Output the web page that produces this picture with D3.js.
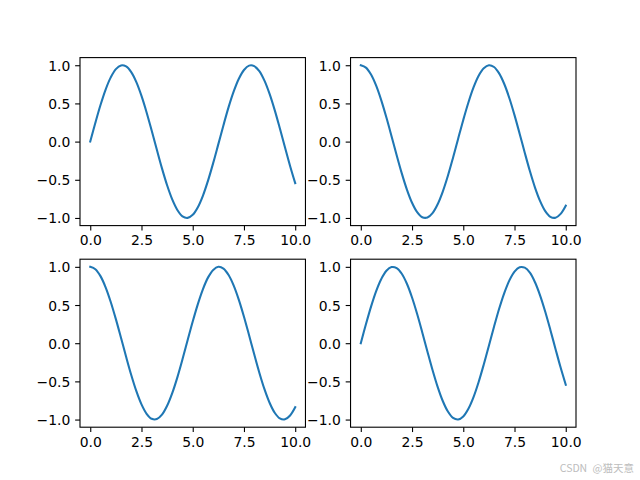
<!DOCTYPE html>
<html><head><meta charset="utf-8">
<script src="https://cdn.jsdelivr.net/npm/d3@7"></script>
<style>body{margin:0;background:#fff}svg{display:block}</style>
</head><body>
<svg id="c" width="640" height="480"></svg>
<script>
const xs = [0,0.25,0.5,0.75,1,1.25,1.5,1.75,2,2.25,2.5,2.75,3,3.25,3.5,3.75,4,4.25,4.5,4.75,5,5.25,5.5,5.75,6,6.25,6.5,6.75,7,7.25,7.5,7.75,8,8.25,8.5,8.75,9,9.25,9.5,9.75,10];
const sinVals = [0,0.247,0.479,0.682,0.841,0.949,0.997,0.984,0.909,0.778,0.598,0.382,0.141,-0.108,-0.351,-0.572,-0.757,-0.895,-0.978,-0.999,-0.959,-0.859,-0.706,-0.508,-0.279,-0.033,0.215,0.451,0.657,0.823,0.938,0.995,0.989,0.923,0.798,0.624,0.412,0.174,-0.075,-0.319,-0.544];
const cosVals = [1,0.969,0.878,0.732,0.540,0.315,0.071,-0.178,-0.416,-0.628,-0.801,-0.924,-0.990,-0.994,-0.936,-0.820,-0.654,-0.447,-0.211,0.038,0.284,0.512,0.709,0.862,0.960,1.000,0.977,0.893,0.754,0.568,0.347,0.104,-0.146,-0.386,-0.602,-0.780,-0.911,-0.985,-0.997,-0.946,-0.839];
const panels = [sinVals, cosVals, cosVals, sinVals];
const xTicks = [0, 2.5, 5, 7.5, 10];
const xTickLabels = ["0.0","2.5","5.0","7.5","10.0"];
const yTicks = [-1, -0.5, 0, 0.5, 1];
const yTickLabels = ["−1.0","−0.5","0.0","0.5","1.0"];
const watermark = "CSDN @猫天意";

const svg = d3.select("#c");
const L = 80, R = 576, T = 57.6, B = 427.2;
const w = (R - L) / 2.2, h = (B - T) / 2.2;
const font = "DejaVu Sans, sans-serif";

panels.forEach((vals, i) => {
  const col = i % 2, row = Math.floor(i / 2);
  const x0 = L + col * w * 1.2, y0 = T + row * h * 1.2;
  const x = d3.scaleLinear().domain([-0.5, 10.5]).range([x0, x0 + w]);
  const y = d3.scaleLinear().domain([-1.1, 1.1]).range([y0 + h, y0]);
  const g = svg.append("g");
  const line = d3.line().x((d, j) => x(xs[j])).y(d => y(d)).curve(d3.curveCatmullRom.alpha(0.5));
  g.append("path").datum(vals).attr("d", line).attr("fill", "none")
    .attr("stroke", "#1f77b4").attr("stroke-width", 2.08).attr("stroke-linecap", "square");
  const xa = g.append("g").attr("transform", `translate(0,${y0 + h})`)
    .call(d3.axisBottom(x).tickValues(xTicks).tickFormat((d, k) => xTickLabels[k]).tickSize(4.86).tickPadding(4.86));
  const ya = g.append("g").attr("transform", `translate(${x0},0)`)
    .call(d3.axisLeft(y).tickValues(yTicks).tickFormat((d, k) => yTickLabels[k]).tickSize(4.86).tickPadding(4.86));
  [xa, ya].forEach(a => {
    a.select(".domain").remove();
    a.selectAll(".tick line").attr("stroke", "#000").attr("stroke-width", 1.1);
    a.selectAll(".tick text").attr("fill", "#000").style("font-family", font).style("font-size", "13.9px");
  });
  xa.selectAll(".tick text").attr("dy", "0.72em");
  ya.selectAll(".tick text").attr("dy", "0.36em");
  g.append("rect").attr("x", x0).attr("y", y0).attr("width", w).attr("height", h)
    .attr("fill", "none").attr("stroke", "#000").attr("stroke-width", 1.1);
});

svg.append("text").attr("x", 634).attr("y", 472).attr("text-anchor", "end")
  .style("font-family", "Noto Sans CJK SC, sans-serif").style("font-size", "10.5px")
  .style("word-spacing", "3px")
  .attr("fill", "#bdbdbd").text(watermark);
</script>
</body></html>
